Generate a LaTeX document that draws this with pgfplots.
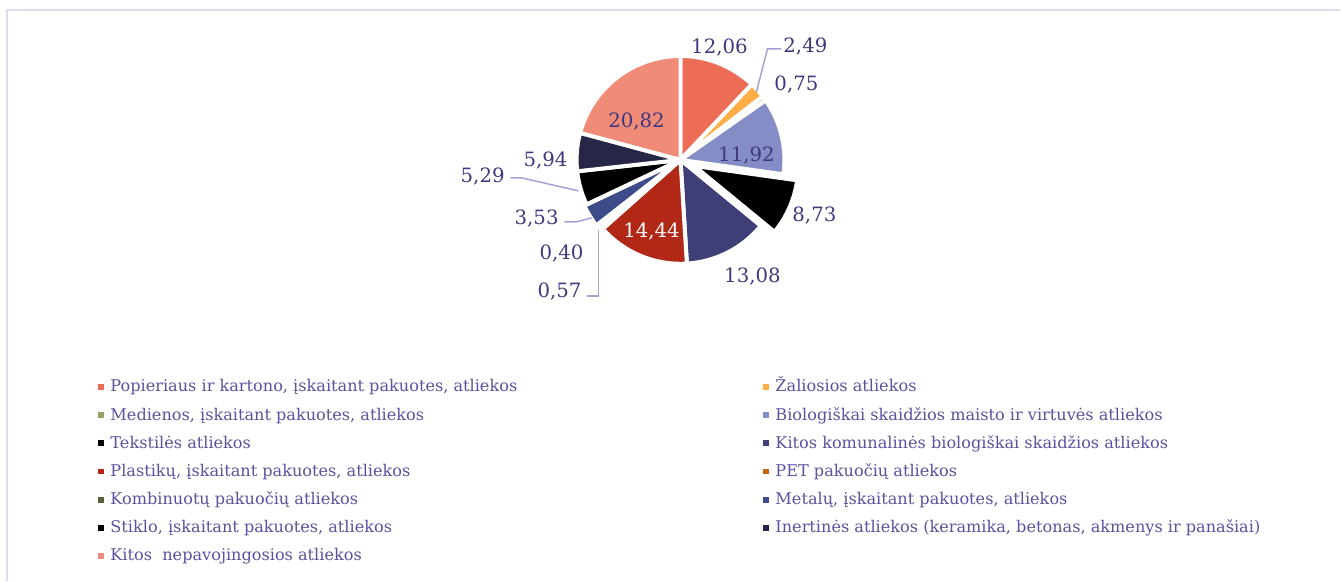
\documentclass[border=0pt]{standalone}
\usepackage{pgfplots}
\pgfplotsset{compat=1.18}
\usepackage{pgfplotstable}
\usepackage{fontspec}
\setmainfont{DejaVu Serif}

\definecolor{cPap}{RGB}{236,108,86}
\definecolor{cZal}{RGB}{253,174,70}
\definecolor{cMed}{RGB}{155,160,100}
\definecolor{cBio}{RGB}{132,141,198}
\definecolor{cTek}{RGB}{0,0,0}
\definecolor{cKom}{RGB}{64,62,118}
\definecolor{cPla}{RGB}{178,40,22}
\definecolor{cPET}{RGB}{196,104,16}
\definecolor{cKomb}{RGB}{90,95,60}
\definecolor{cMet}{RGB}{62,74,138}
\definecolor{cSti}{RGB}{0,0,0}
\definecolor{cIne}{RGB}{38,38,70}
\definecolor{cKit}{RGB}{240,139,120}
\definecolor{labc}{RGB}{64,57,125}
\definecolor{legc}{RGB}{89,82,158}
\definecolor{leadc}{RGB}{165,160,212}
\definecolor{framec}{RGB}{220,218,236}

\pgfplotstableread{
val col ex
12.06 cPap 0
2.49 cZal 0
0.75 cMed 0
11.92 cBio 0
8.73 cTek 11.25
13.08 cKom 0
14.44 cPla 0
0.57 cPET 0
0.40 cKomb 0
3.53 cMet 2
5.29 cSti 0
5.94 cIne 0
20.82 cKit 0
}\piedata

\pgfplotsset{sqleg/.style={legend image code/.code={\fill[##1] (0pt,-2.2pt) rectangle (4.4pt,2.2pt);}}}

\begin{document}
\begin{tikzpicture}[
  lab/.style={font=\fontsize{14.8}{17}\selectfont, text=labc, inner sep=0pt, anchor=base},
  leader/.style={draw=leadc, line width=1.1pt},
]
\begin{axis}[
  scale only axis, width=1005.75pt, height=435.75pt,
  xmin=0, xmax=1341, ymin=0, ymax=581, y dir=reverse,
  hide axis, clip=false,
  legend columns=2,
  legend cell align=left,
  legend style={at={(axis cs:98,373.4)}, anchor=north west, draw=none, fill=none,
    inner sep=0pt, outer sep=0pt, row sep=0pt, column sep=0pt,
    nodes={inner sep=0pt, text height=14.1pt, text depth=7pt,
      font=\fontsize{12.1}{14}\selectfont, text=legc},
    /tikz/every odd column/.append style={column sep=5pt}},
]
\path (axis cs:0,0) rectangle (axis cs:1341,581);
\draw[framec, line width=1.5pt] (axis cs:7.5,581) -- (axis cs:7.5,10.5) -- (axis cs:1341,10.5);

\pgfplotsextra{%
  \gdef\total{0}%
  \foreach \i in {0,...,12}{%
    \pgfplotstablegetelem{\i}{val}\of\piedata
    \pgfmathsetmacro\tmpsum{\total+\pgfplotsretval}%
    \xdef\total{\tmpsum}%
  }%
  \gdef\cum{0}%
  \foreach \i in {0,...,12}{%
    \pgfplotstablegetelem{\i}{val}\of\piedata \let\v\pgfplotsretval
    \pgfplotstablegetelem{\i}{col}\of\piedata \let\c\pgfplotsretval
    \pgfplotstablegetelem{\i}{ex}\of\piedata \let\e\pgfplotsretval
    \pgfmathsetmacro\aone{90-(\cum/\total)*360}%
    \pgfmathsetmacro\atwo{90-((\cum+\v)/\total)*360}%
    \pgfmathsetmacro\amid{(\aone+\atwo)/2}%
    \fill[fill=\c, draw=white, line width=3pt, line join=round]
      (axis cs:681,160) ++(\amid:\e pt) -- ++(\aone:78pt)
      arc[start angle=\aone, end angle=\atwo, radius=78pt] -- cycle;
    \pgfmathsetmacro\nc{\cum+\v}%
    \xdef\cum{\nc}%
  }%
}

\draw[leader] (axis cs:757,92) -- (axis cs:768,49) -- (axis cs:782,49);
\draw[leader] (axis cs:579,191) -- (axis cs:522,178) -- (axis cs:511,178);
\draw[leader] (axis cs:592,218) -- (axis cs:577,222) -- (axis cs:565,222);
\draw[leader] (axis cs:599,230) -- (axis cs:599,296) -- (axis cs:587,296);

\node[lab] at (axis cs:720,54) {12,06};
\node[lab] at (axis cs:806,53) {2,49};
\node[lab] at (axis cs:797,91) {0,75};
\node[lab] at (axis cs:637,128) {20,82};
\node[lab] at (axis cs:747,162) {11,92};
\node[lab] at (axis cs:546,167) {5,94};
\node[lab] at (axis cs:483,183) {5,29};
\node[lab] at (axis cs:815,222) {8,73};
\node[lab] at (axis cs:537,225) {3,53};
\node[lab, text=white] at (axis cs:652,238) {14,44};
\node[lab] at (axis cs:562,260) {0,40};
\node[lab] at (axis cs:753,283) {13,08};
\node[lab] at (axis cs:560,298) {0,57};

\addlegendimage{sqleg, fill=cPap, draw=none}
\addlegendentry{\makebox[489.75pt][l]{Popieriaus ir kartono, įskaitant pakuotes, atliekos}}
\addlegendimage{sqleg, fill=cZal, draw=none}
\addlegendentry{Žaliosios atliekos}
\addlegendimage{sqleg, fill=cMed, draw=none}
\addlegendentry{\makebox[489.75pt][l]{Medienos, įskaitant pakuotes, atliekos}}
\addlegendimage{sqleg, fill=cBio, draw=none}
\addlegendentry{Biologiškai skaidžios maisto ir virtuvės atliekos}
\addlegendimage{sqleg, fill=cTek, draw=none}
\addlegendentry{\makebox[489.75pt][l]{Tekstilės atliekos}}
\addlegendimage{sqleg, fill=cKom, draw=none}
\addlegendentry{Kitos komunalinės biologiškai skaidžios atliekos}
\addlegendimage{sqleg, fill=cPla, draw=none}
\addlegendentry{\makebox[489.75pt][l]{Plastikų, įskaitant pakuotes, atliekos}}
\addlegendimage{sqleg, fill=cPET, draw=none}
\addlegendentry{PET pakuočių atliekos}
\addlegendimage{sqleg, fill=cKomb, draw=none}
\addlegendentry{\makebox[489.75pt][l]{Kombinuotų pakuočių atliekos}}
\addlegendimage{sqleg, fill=cMet, draw=none}
\addlegendentry{Metalų, įskaitant pakuotes, atliekos}
\addlegendimage{sqleg, fill=cSti, draw=none}
\addlegendentry{\makebox[489.75pt][l]{Stiklo, įskaitant pakuotes, atliekos}}
\addlegendimage{sqleg, fill=cIne, draw=none}
\addlegendentry{Inertinės atliekos (keramika, betonas, akmenys ir panašiai)}
\addlegendimage{sqleg, fill=cKit, draw=none}
\addlegendentry{\makebox[489.75pt][l]{Kitos~ nepavojingosios atliekos}}
\end{axis}
\end{tikzpicture}
\end{document}
